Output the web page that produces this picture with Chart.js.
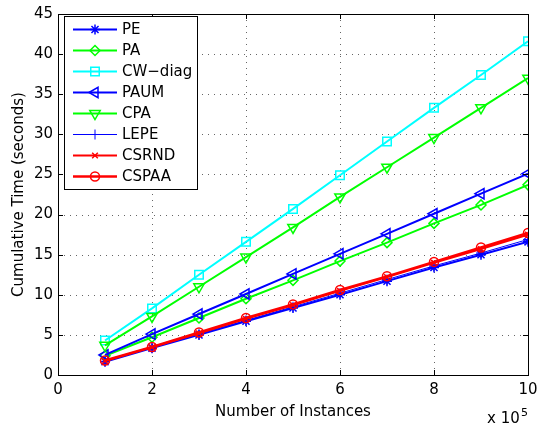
<!DOCTYPE html>
<html>
<head>
<meta charset="utf-8">
<script src="https://cdn.jsdelivr.net/npm/chart.js@4"></script>
<style>
  html, body { margin: 0; padding: 0; background: #fff; }
  #wrap { width: 545px; height: 431px; }
</style>
</head>
<body>
<div id="wrap"><canvas id="chart" width="545" height="431"></canvas></div>
<script>
// x values are in units of 10^5 instances
const instances = [1, 2, 3, 4, 5, 6, 7, 8, 9, 10];
const seriesNames = ['PE', 'PA', 'CW\u2212diag', 'PAUM', 'CPA', 'LEPE', 'CSRND', 'CSPAA'];
const pe     = [1.65, 3.35, 5.0, 6.7, 8.35, 10.0, 11.7, 13.4, 15.0, 16.6];
const pa     = [2.4, 4.7, 7.1, 9.5, 11.8, 14.2, 16.5, 18.9, 21.2, 23.7];
const cwDiag = [4.3, 8.3, 12.5, 16.6, 20.7, 24.9, 29.1, 33.3, 37.4, 41.6];
const paum   = [2.5, 5.1, 7.6, 10.1, 12.6, 15.1, 17.6, 20.1, 22.6, 25.1];
const cpa    = [3.7, 7.3, 11.0, 14.7, 18.4, 22.2, 25.9, 29.6, 33.3, 37.0];
const lepe   = [1.7, 3.4, 5.1, 6.8, 8.5, 10.2, 11.9, 13.6, 15.2, 16.9];
const csrnd  = [1.75, 3.45, 5.2, 7.0, 8.7, 10.5, 12.2, 14.0, 15.7, 17.5];
const cspaa  = [1.8, 3.5, 5.3, 7.1, 8.8, 10.6, 12.3, 14.1, 15.9, 17.7];
const xTicks = [0, 2, 4, 6, 8, 10];
const yTicks = [0, 5, 10, 15, 20, 25, 30, 35, 40, 45];

const FONT = '"DejaVu Sans", sans-serif';

// styles per series (MATLAB look)
const styles = [
  { color: '#0000ff', point: 'star',      rot: 0,   r: 5,   lw: 2,   bw: 1.5 },
  { color: '#00ff00', point: 'rectRot',   rot: 0,   r: 5,   lw: 2,   bw: 1.5 },
  { color: '#00ffff', point: 'rect',      rot: 0,   r: 6,   lw: 2,   bw: 1.5 },
  { color: '#0000ff', point: 'triangle',  rot: -90, r: 6,   lw: 2,   bw: 1.5 },
  { color: '#00ff00', point: 'triangle',  rot: 180, r: 6,   lw: 2,   bw: 1.5 },
  { color: '#0000ff', point: 'cross',     rot: 0,   r: 5,   lw: 1,   bw: 1 },
  { color: '#ff0000', point: 'crossRot',  rot: 0,   r: 4,   lw: 2,   bw: 1.5 },
  { color: '#ff0000', point: 'circle',    rot: 0,   r: 4.5, lw: 2.5, bw: 1.5 }
];
const values = [pe, pa, cwDiag, paum, cpa, lepe, csrnd, cspaa];

const datasets = values.map((vals, i) => ({
  label: seriesNames[i],
  data: vals.map((v, j) => ({ x: instances[j], y: v })),
  borderColor: styles[i].color,
  borderWidth: styles[i].lw,
  pointStyle: styles[i].point,
  pointRotation: styles[i].rot,
  pointRadius: styles[i].r,
  pointBorderWidth: styles[i].bw,
  pointBorderColor: styles[i].color,
  pointBackgroundColor: 'rgba(0,0,0,0)',
  tension: 0,
  fill: false,
  order: values.length - i // last series drawn on top
}));

// dotted grid, box, inward ticks, legend and the x10^5 label
const matlabAxes = {
  id: 'matlabAxes',
  beforeDatasetsDraw(chart) {
    const { ctx, chartArea: a, scales } = chart;
    ctx.save();
    ctx.strokeStyle = '#666';
    ctx.lineWidth = 1;
    ctx.setLineDash([1, 5]);
    ctx.beginPath();
    xTicks.slice(1, -1).forEach(t => {
      const px = Math.round(scales.x.getPixelForValue(t)) + 0.5;
      ctx.moveTo(px, a.bottom); ctx.lineTo(px, a.top);
    });
    yTicks.slice(1, -1).forEach(t => {
      const py = Math.round(scales.y.getPixelForValue(t)) + 0.5;
      ctx.moveTo(a.left, py); ctx.lineTo(a.right, py);
    });
    ctx.stroke();
    ctx.restore();
  },
  afterDatasetsDraw(chart) {
    const { ctx, chartArea: a, scales } = chart;
    ctx.save();
    ctx.strokeStyle = '#000';
    ctx.lineWidth = 1;
    ctx.beginPath();
    xTicks.forEach(t => {
      const px = Math.round(scales.x.getPixelForValue(t)) + 0.5;
      ctx.moveTo(px, a.bottom); ctx.lineTo(px, a.bottom - 5);
      ctx.moveTo(px, a.top); ctx.lineTo(px, a.top + 5);
    });
    yTicks.forEach(t => {
      const py = Math.round(scales.y.getPixelForValue(t)) + 0.5;
      ctx.moveTo(a.left, py); ctx.lineTo(a.left + 5, py);
      ctx.moveTo(a.right, py); ctx.lineTo(a.right - 5, py);
    });
    ctx.stroke();
    ctx.strokeRect(Math.round(a.left) + 0.5, Math.round(a.top) + 0.5,
      Math.round(a.right - a.left), Math.round(a.bottom - a.top));

    // legend box
    const lx = 64.5, ly = 16.5, lw = 133, lh = 173;
    ctx.fillStyle = '#fff';
    ctx.fillRect(lx, ly, lw, lh);
    ctx.strokeRect(lx, ly, lw, lh);
    ctx.textBaseline = 'middle';
    chart.data.datasets.forEach((ds, i) => {
      const y = 29.5 + i * 21;
      ctx.strokeStyle = ds.borderColor;
      ctx.lineWidth = ds.borderWidth;
      ctx.beginPath();
      ctx.moveTo(73, y); ctx.lineTo(117, y);
      ctx.stroke();
      ctx.lineWidth = ds.pointBorderWidth;
      ctx.fillStyle = 'rgba(0,0,0,0)';
      Chart.helpers.drawPoint(ctx, {
        pointStyle: ds.pointStyle,
        rotation: ds.pointRotation,
        radius: ds.pointRadius,
        borderWidth: ds.pointBorderWidth
      }, 95, y);
      ctx.fillStyle = '#000';
      ctx.font = '15px ' + FONT;
      ctx.fillText(ds.label, 122, y + 1);
    });

    // x 10^5 multiplier
    ctx.fillStyle = '#000';
    ctx.font = '15px ' + FONT;
    ctx.textBaseline = 'alphabetic';
    ctx.fillText('x 10', 487, 423);
    ctx.font = '11px ' + FONT;
    ctx.fillText('5', 521, 416);
    ctx.restore();
  }
};

new Chart(document.getElementById('chart'), {
  type: 'line',
  data: { datasets: datasets },
  options: {
    responsive: false,
    animation: false,
    layout: { padding: { top: 10, right: 17, left: 0, bottom: 0 } },
    plugins: { legend: { display: false }, tooltip: { enabled: false } },
    scales: {
      x: {
        type: 'linear',
        min: 0, max: 10,
        afterBuildTicks(scale) { scale.ticks = xTicks.map(v => ({ value: v })); },
        afterFit(scale) { scale.height = 56; },
        grid: { display: false, drawTicks: false },
        border: { display: false },
        ticks: { color: '#000', padding: 6, maxRotation: 0, font: { size: 15, family: FONT } },
        title: {
          display: true, text: 'Number of Instances', color: '#000',
          font: { size: 15, family: FONT }, padding: { top: 0, bottom: 10 }
        }
      },
      y: {
        type: 'linear',
        min: 0, max: 45,
        afterBuildTicks(scale) { scale.ticks = yTicks.map(v => ({ value: v })); },
        afterFit(scale) { scale.width = 58; },
        grid: { display: false, drawTicks: false },
        border: { display: false },
        ticks: { color: '#000', padding: 5, font: { size: 15, family: FONT } },
        title: {
          display: true, text: 'Cumulative Time (seconds)', color: '#000',
          font: { size: 15, family: FONT }, padding: { top: 10, bottom: 0 }
        }
      }
    }
  },
  plugins: [matlabAxes]
});
</script>
</body>
</html>
